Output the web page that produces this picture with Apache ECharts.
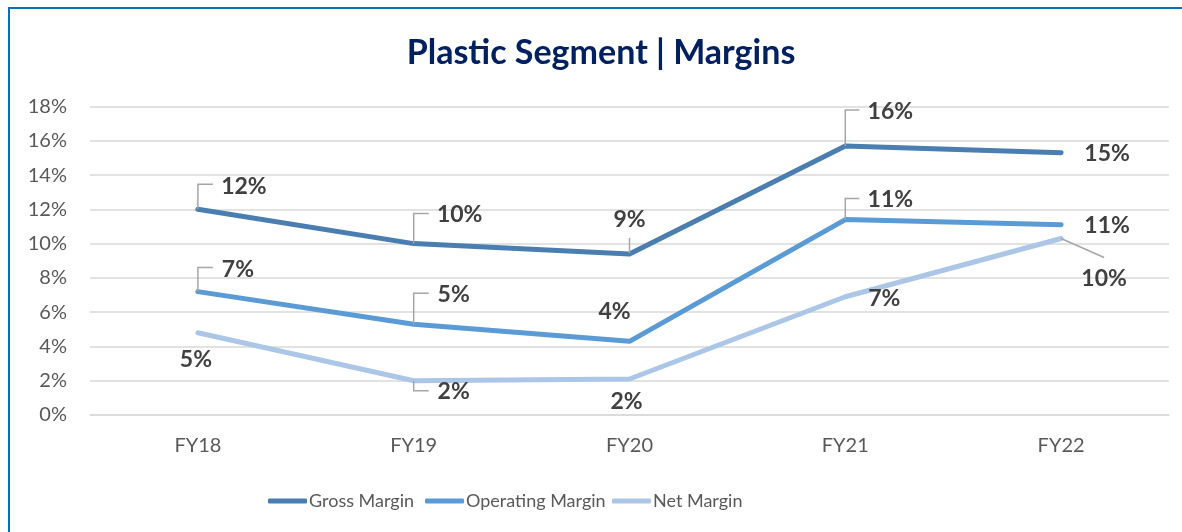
<!DOCTYPE html>
<html>
<head>
<meta charset="utf-8">
<title>Plastic Segment | Margins</title>
<script src="https://cdn.jsdelivr.net/npm/echarts@6/dist/echarts.min.js"></script>
<style>
  html, body { margin: 0; padding: 0; background: #fff; overflow: hidden; }
  #chart { width: 1182px; height: 532px; }
  /* blue frame: left and top edges of the chart box */
  #frame {
    position: absolute; left: 8px; top: 7px; width: 1180px; height: 530px;
    border-left: 2px solid #0070C0; border-top: 2px solid #0070C0;
    pointer-events: none;
  }
</style>
</head>
<body>
<div id="chart"></div>
<div id="frame"></div>
<script>
// Fiscal years on the x axis
const categories = ['FY18', 'FY19', 'FY20', 'FY21', 'FY22'];

// Margins, in percent
const grossMargin     = [12.0, 10.0, 9.4, 15.7, 15.3];
const operatingMargin = [7.2, 5.3, 4.3, 11.4, 11.1];
const netMargin       = [4.8, 2.0, 2.1, 6.9, 10.3];

// Y axis range and step, in percent
const yMin = 0, yMax = 18, yStep = 2;

// Label offsets from each point (pixels), per series
const labelOffsets = {
  'Gross Margin':     [[46, -23], [46, -29], [0, -34], [45, -34], [46, 1]],
  'Operating Margin': [[40, -22], [40, -30], [-15, -30], [45, -20], [46, 1]],
  'Net Margin':       [[-2, 27], [40, 11], [-3, 23], [39, 2], [43, 40]]
};

// Callout leader polylines relative to each point (pixels); null = none
const leaderPaths = {
  'Gross Margin': [
    [[0, 0], [0, -25], [15, -25]],
    [[0, 0], [0, -30], [15, -30]],
    [[0, -1], [0, -16]],
    [[0, 0], [0, -36], [14, -36]],
    null
  ],
  'Operating Margin': [
    [[0, 0], [0, -24], [15, -24]],
    [[0, 0], [0, -31], [15, -31]],
    null,
    [[0, 0], [0, -21], [14, -21]],
    null
  ],
  'Net Margin': [
    null,
    [[0, 0], [0, 10], [15, 10]],
    null,
    null,
    [[0, 0], [43, 19]]
  ]
};

const seriesDefs = [
  { name: 'Gross Margin',     values: grossMargin,     color: '#4A7DB0', legendLeft: 268 },
  { name: 'Operating Margin', values: operatingMargin, color: '#5B9BD5', legendLeft: 425 },
  { name: 'Net Margin',       values: netMargin,       color: '#ABC6E7', legendLeft: 612 }
];

const FONT = 'Lato';

const lineSeries = seriesDefs.map(def => ({
  type: 'line',
  name: def.name,
  data: def.values.map((v, i) => ({
    value: v,
    label: { offset: labelOffsets[def.name][i] }
  })),
  symbol: 'circle',
  symbolSize: 1,
  showSymbol: true,
  itemStyle: { color: def.color },
  lineStyle: { color: def.color, width: 5, cap: 'round', join: 'round' },
  label: {
    show: true,
    position: 'inside',
    formatter: p => Math.round(p.value) + '%',
    fontFamily: FONT,
    fontWeight: 'bold',
    fontSize: 23,
    color: '#404040'
  },
  emphasis: { disabled: true },
  z: 2
}));

const leaderSeries = seriesDefs.map(def => ({
  type: 'custom',
  name: def.name + ' callouts',
  data: def.values.map((v, i) => [i, v]),
  silent: true,
  z: 3,
  renderItem: function (params, api) {
    const path = leaderPaths[def.name][params.dataIndex];
    if (!path) return;
    const pt = api.coord([api.value(0), api.value(1)]);
    return {
      type: 'polyline',
      shape: { points: path.map(([dx, dy]) => [pt[0] + dx, pt[1] + dy]) },
      style: { stroke: '#A6A6A6', lineWidth: 1.5, fill: null }
    };
  }
}));

// one legend entry per series, each placed on its own
const legends = seriesDefs.map(def => ({
  data: [def.name],
  left: def.legendLeft,
  top: 491,
  padding: 0,
  itemWidth: 39,
  itemHeight: 5,
  icon: 'roundRect',
  selectedMode: false,
  textStyle: { fontFamily: FONT, fontSize: 18, color: '#595959', lineHeight: 20, padding: [0, 0, 0, -3] }
}));

const chart = echarts.init(document.getElementById('chart'), null, { renderer: 'canvas' });

chart.setOption({
  animation: false,
  backgroundColor: '#ffffff',
  title: {
    text: 'Plastic Segment | Margins',
    left: 601,
    top: 36,
    textAlign: 'center',
    padding: 0,
    textStyle: { fontFamily: FONT, fontWeight: 'bold', fontSize: 34, color: '#002060' }
  },
  legend: legends,
  grid: {
    left: 90, right: 13, top: 106.5, bottom: 117,
    outerBoundsMode: 'none'
  },
  xAxis: {
    type: 'category',
    data: categories,
    boundaryGap: true,
    axisLine: { show: true, lineStyle: { color: '#D9D9D9', width: 1.5 } },
    axisTick: { show: false },
    axisLabel: { fontFamily: FONT, fontSize: 20, color: '#595959', margin: 21 }
  },
  yAxis: {
    type: 'value',
    min: yMin,
    max: yMax,
    interval: yStep,
    axisLine: { show: false },
    axisTick: { show: false },
    axisLabel: { formatter: '{value}%', fontFamily: FONT, fontSize: 20, color: '#595959', margin: 23 },
    splitLine: { lineStyle: { color: '#D9D9D9', width: 1.5 } }
  },
  series: [...lineSeries, ...leaderSeries]
});
</script>
</body>
</html>
